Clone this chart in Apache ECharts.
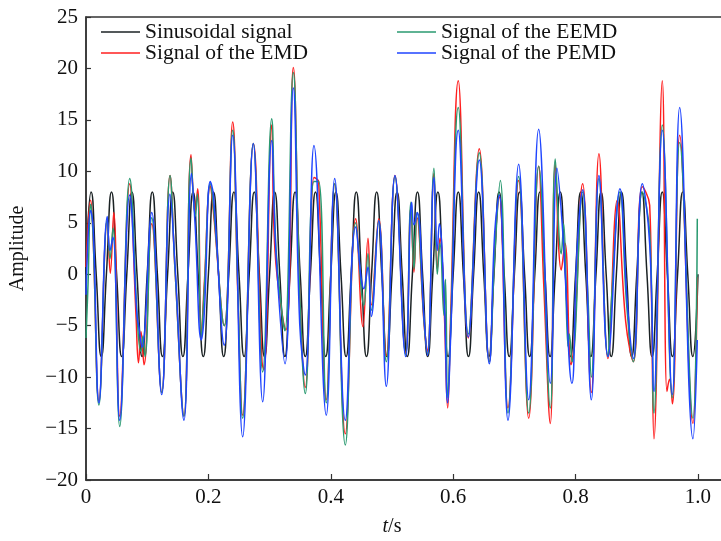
<!DOCTYPE html>
<html>
<head>
<meta charset="utf-8">
<script src="https://cdn.jsdelivr.net/npm/echarts@6/dist/echarts.min.js"></script>
<style>
  html, body { margin: 0; padding: 0; background: #fff; }
  #chart { width: 721px; height: 541px; }
</style>
</head>
<body>
<div id="chart"></div>
<script>
// sinusoid sampled every quarter period (30 Hz, amplitude 8)
const sineStep = 1 / 120;
const sineY = [
  0, 8, 0, -8, 0, 8, 0, -8, 0, 8, 0, -8, 0, 8, 0, -8, 0, 8, 0, -8,
  0, 8, 0, -8, 0, 8, 0, -8, 0, 8, 0, -8, 0, 8, 0, -8, 0, 8, 0, -8,
  0, 8, 0, -8, 0, 8, 0, -8, 0, 8, 0, -8, 0, 8, 0, -8, 0, 8, 0, -8,
  0, 8, 0, -8, 0, 8, 0, -8, 0, 8, 0, -8, 0, 8, 0, -8, 0, 8, 0, -8,
  0, 8, 0, -8, 0, 8, 0, -8, 0, 8, 0, -8, 0, 8, 0, -8, 0, 8, 0, -8,
  0, 8, 0, -8, 0, 8, 0, -8, 0, 8, 0, -8, 0, 8, 0, -8, 0, 8, 0, -8,
  0
];

// EMD reconstruction, [t, amplitude] read at turning points
const emdData = [
  [0, 0.7], [0.0077, 7.2], [0.0114, 4.0], [0.0212, -12.3], [0.0348, 5.3],
  [0.0397, 0.1], [0.0453, 6.0], [0.0551, -13.8], [0.0714, 8.8], [0.0817, -4.0],
  [0.0858, -8.6], [0.0899, -5.6], [0.0948, -8.8], [0.1074, 4.9], [0.1237, -11.5],
  [0.1373, 9.6], [0.1454, 0.5], [0.1601, -13.8], [0.1716, 11.6], [0.1781, 6.0],
  [0.1825, 8.3], [0.1884, -5.8], [0.1933, -0.9], [0.2031, 8.6], [0.2080, 6.2],
  [0.2260, -5.0], [0.2397, 14.8], [0.2479, -1.6], [0.2560, -13.7], [0.2734, 12.7],
  [0.2876, -8.5], [0.2908, -9.3], [0.3034, 14.5], [0.3088, 2.3], [0.3268, -5.4],
  [0.3387, 20.1], [0.3492, -1.7], [0.3583, -11.0], [0.3725, 9.4], [0.3758, 9.3],
  [0.3802, 9.0], [0.3926, -12.2], [0.4064, 8.8], [0.4237, -15.5], [0.4407, 5.4],
  [0.4526, -5.1], [0.4608, 3.5], [0.4662, -3.0], [0.4783, 5.4], [0.4907, -7.9],
  [0.5049, 9.6], [0.5224, -7.7], [0.5310, 6.5], [0.5359, 0.2], [0.5408, 5.5],
  [0.5523, -4.7], [0.5580, -7.5], [0.5686, 9.8], [0.5740, 0.5], [0.5784, 3.5],
  [0.5850, -3.0], [0.5910, -13.0], [0.5959, -4.0], [0.6083, 18.8], [0.6247, -6.2],
  [0.6426, 12.2], [0.6590, -8.5], [0.6678, 2.3], [0.6753, 7.5], [0.6895, -13.0],
  [0.7070, 9.1], [0.7234, -14.0], [0.7397, 10.5], [0.7479, -0.9], [0.7587, -14.5],
  [0.7668, 10.7], [0.7766, 0.4], [0.7827, 3.0], [0.7925, -8.8], [0.7974, -7.0],
  [0.8116, 8.8], [0.8257, -11.5], [0.8382, 11.7], [0.8529, -8.2], [0.8681, 7.2],
  [0.8819, -4.6], [0.8943, -8.5], [0.9090, 8.5], [0.9211, 6.7], [0.9240, -2.0],
  [0.9281, -16.0], [0.9417, 18.8], [0.9493, -11.4], [0.9534, -10.2], [0.9583, -12.6],
  [0.9701, 13.5], [0.9918, -14.5], [0.9989, -0.3]
];

// EEMD reconstruction
const eemdData = [
  [0, -6.2], [0.0033, -1.0], [0.0077, 6.8], [0.0114, 4.0], [0.0212, -12.7],
  [0.0348, 5.3], [0.0392, 1.5], [0.0441, 4.5], [0.0551, -14.8], [0.0714, 9.3],
  [0.0850, -5.5], [0.0899, -7.5], [0.0931, -6.0], [0.0964, -8.0], [0.1074, 5.5],
  [0.1237, -11.5], [0.1373, 9.6], [0.1454, 0.5], [0.1601, -13.8], [0.1716, 11.3],
  [0.1786, 5.6], [0.1822, 7.8], [0.1884, -6.0], [0.1933, -1.5], [0.2031, 8.8],
  [0.2075, 7.0], [0.2260, -5.0], [0.2397, 14.0], [0.2479, -1.0], [0.2560, -14.0],
  [0.2734, 12.7], [0.2887, -9.5], [0.3034, 15.1], [0.3105, 2.5], [0.3211, -4.2],
  [0.3252, -5.5], [0.3387, 19.6], [0.3492, -1.7], [0.3583, -11.6], [0.3725, 9.0],
  [0.3802, 9.0], [0.3926, -12.5], [0.4064, 8.8], [0.4237, -16.6], [0.4407, 5.0],
  [0.4542, -3.0], [0.4608, 2.0], [0.4662, -3.5], [0.4783, 5.2], [0.4907, -8.5],
  [0.5049, 9.5], [0.5224, -7.8], [0.5310, 7.0], [0.5359, 0.5], [0.5408, 6.0],
  [0.5523, -4.5], [0.5580, -7.7], [0.5686, 10.3], [0.5740, 0.0], [0.5784, 3.0],
  [0.5850, -4.0], [0.5874, -0.5], [0.5910, -12.0], [0.5959, -5.0], [0.6083, 16.2],
  [0.6247, -5.8], [0.6426, 11.8], [0.6590, -8.5], [0.6683, 2.3], [0.6770, 9.1],
  [0.6895, -13.5], [0.7070, 9.5], [0.7234, -13.5], [0.7397, 10.5], [0.7587, -13.0],
  [0.7668, 11.2], [0.7766, 2.0], [0.7806, 4.9], [0.7876, -7.0], [0.7897, -5.8],
  [0.7941, -8.5], [0.8116, 8.0], [0.8203, -2.3], [0.8257, -10.0], [0.8382, 9.3],
  [0.8529, -8.0], [0.8573, -3.7], [0.8725, 8.0], [0.8835, -3.0], [0.8943, -8.5],
  [0.9090, 8.0], [0.9211, 4.0], [0.9281, -13.5], [0.9417, 14.5], [0.9580, -12.0],
  [0.9701, 12.8], [0.9918, -14.0], [0.9989, 5.4]
];

// PEMD reconstruction
const pemdData = [
  [0, -2.0], [0.0077, 6.2], [0.0119, 4.3], [0.0212, -12.5], [0.0348, 5.6],
  [0.0392, 2.3], [0.0441, 3.6], [0.0551, -14.2], [0.0714, 7.7], [0.0833, -4.0],
  [0.0866, -5.2], [0.0915, -7.1], [0.1074, 6.0], [0.1237, -11.7], [0.1373, 7.8],
  [0.1454, 1.0], [0.1601, -14.2], [0.1724, 9.8], [0.1781, 5.0], [0.1884, -6.4],
  [0.1933, -3.8], [0.2031, 9.0], [0.2080, 7.8], [0.2260, -6.9], [0.2397, 13.5],
  [0.2560, -15.8], [0.2734, 12.7], [0.2887, -12.4], [0.3034, 13.0], [0.3105, 2.0],
  [0.3252, -8.7], [0.3387, 18.1], [0.3492, -4.8], [0.3583, -9.8], [0.3725, 12.5],
  [0.3926, -13.7], [0.4064, 9.3], [0.4237, -14.2], [0.4407, 4.6], [0.4542, -1.4],
  [0.4608, 0.7], [0.4662, -4.1], [0.4783, 5.2], [0.4907, -10.9], [0.5049, 9.6],
  [0.5224, -8.0], [0.5322, 7.0], [0.5359, 4.8], [0.5413, 6.0], [0.5523, -4.2],
  [0.5580, -7.9], [0.5686, 9.4], [0.5740, 2.3], [0.5773, 4.9], [0.5850, -2.0],
  [0.5910, -12.5], [0.5959, -6.0], [0.6083, 14.0], [0.6247, -6.1], [0.6426, 11.1],
  [0.6590, -8.7], [0.6678, 4.0], [0.6753, 7.7], [0.6895, -14.2], [0.7070, 10.7],
  [0.7234, -12.2], [0.7397, 14.1], [0.7587, -10.6], [0.7696, 10.3], [0.7789, 4.2],
  [0.7941, -10.6], [0.8023, 2.3], [0.8116, 8.2], [0.8257, -12.2], [0.8382, 9.6],
  [0.8529, -8.0], [0.8725, 8.3], [0.8845, -2.8], [0.8943, -8.2], [0.9090, 8.8],
  [0.9211, 2.9], [0.9281, -11.4], [0.9417, 14.0], [0.9580, -11.7], [0.9701, 16.2],
  [0.9918, -16.0], [0.9989, -6.4]
];

const xTicks = [0, 0.2, 0.4, 0.6, 0.8, 1.0];
const yTicks = [-20, -15, -10, -5, 0, 5, 10, 15, 20, 25];

const FONT = "'Liberation Serif', 'Times New Roman', serif";
const AXIS_COLOR = '#333';

const sineData = sineY.map((v, i) => [i * sineStep, v]);

const chart = echarts.init(document.getElementById('chart'), null, {renderer: 'canvas'});

function lineSeries(name, data, color, smooth) {
  return {
    name: name,
    type: 'line',
    data: data,
    smooth: smooth,
    symbol: 'none',
    lineStyle: {color: color, width: 1.5},
    itemStyle: {color: color},
    animation: false
  };
}

const legendText = {fontFamily: FONT, fontSize: 21.5, lineHeight: 20, color: '#111'};

const option = {
  backgroundColor: '#fff',
  animation: false,
  textStyle: {fontFamily: FONT},
  // right edge falls outside the canvas, like the cropped reference
  grid: {
    left: 86, top: 17, width: 640, height: 463,
    outerBoundsMode: 'none', containLabel: false,
    show: true, borderColor: AXIS_COLOR, borderWidth: 1.5
  },
  legend: [
    {
      left: 101, top: 21, orient: 'vertical', itemGap: -1, padding: 0,
      icon: 'rect', itemWidth: 39, itemHeight: 1.5,
      textStyle: legendText,
      data: ['Sinusoidal signal', 'Signal of the EMD']
    },
    {
      left: 397, top: 21, orient: 'vertical', itemGap: -1, padding: 0,
      icon: 'rect', itemWidth: 39, itemHeight: 1.5,
      textStyle: legendText,
      data: ['Signal of the EEMD', 'Signal of the PEMD']
    }
  ],
  xAxis: {
    type: 'value', min: 0, max: 1.0458, interval: 0.2,
    axisLine: {show: true, onZero: false, lineStyle: {color: AXIS_COLOR, width: 1.5}},
    axisTick: {show: true, inside: true, length: 6, lineStyle: {color: AXIS_COLOR, width: 1.2}},
    splitLine: {show: false},
    axisLabel: {
      showMaxLabel: false, margin: 7,
      fontFamily: FONT, fontSize: 21, color: '#111',
      formatter: v => {
        const hit = xTicks.find(t => Math.abs(t - v) < 1e-6);
        if (hit === undefined) return '';
        return hit === 0 ? '0' : hit.toFixed(1);
      }
    }
  },
  yAxis: {
    type: 'value', min: -20, max: 25, interval: 5,
    name: 'Amplitude', nameLocation: 'middle', nameRotate: 90, nameGap: 58,
    nameTextStyle: {fontFamily: FONT, fontSize: 20, color: '#111'},
    axisLine: {show: true, onZero: false, lineStyle: {color: AXIS_COLOR, width: 1.5}},
    axisTick: {show: true, inside: true, length: 5, lineStyle: {color: AXIS_COLOR, width: 1.2}},
    splitLine: {show: false},
    axisLabel: {
      margin: 8, fontFamily: FONT, fontSize: 21, color: '#111',
      formatter: v => yTicks.includes(v) ? String(v).replace('-', '\u2212') : ''
    }
  },
  graphic: [
    {
      type: 'text', x: 392, y: 527,
      style: {
        text: '{i|t}/s',
        align: 'center', verticalAlign: 'middle',
        fontFamily: FONT, fontSize: 20, fill: '#111',
        rich: {i: {fontStyle: 'italic', fontFamily: FONT, fontSize: 20}}
      }
    }
  ],
  series: [
    lineSeries('Sinusoidal signal', sineData, '#1b2224', 0.55),
    lineSeries('Signal of the EMD', emdData, '#ff1f1f', 0.45),
    lineSeries('Signal of the EEMD', eemdData, '#2a9a70', 0.45),
    lineSeries('Signal of the PEMD', pemdData, '#1f45ff', 0.45)
  ]
};

chart.setOption(option);
</script>
</body>
</html>
